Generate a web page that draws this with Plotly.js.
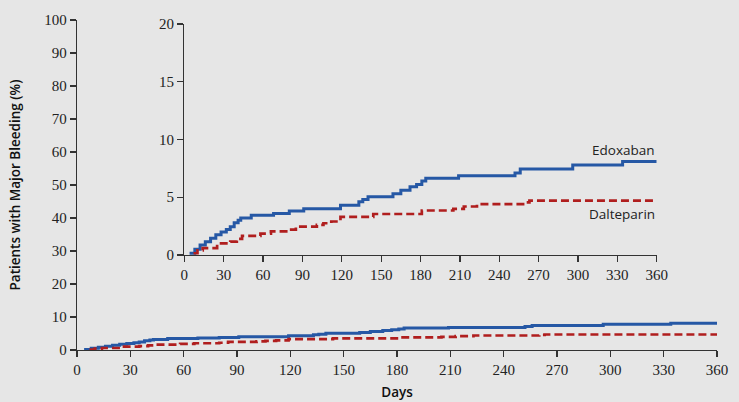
<!DOCTYPE html>
<html>
<head>
<meta charset="utf-8">
<script src="https://cdn.plot.ly/plotly-3.0.1.min.js"></script>
<style>
html,body{margin:0;padding:0;background:#e6e6e6;}
#chart{width:739px;height:402px;}
</style>
</head>
<body>
<div id="chart"></div>
<script>
// Edoxaban cumulative incidence (step)
const edoxDays = [4, 8, 12, 16, 20, 24, 28, 32, 35, 38, 41, 43, 51, 68, 80, 91, 119, 133, 136, 140, 159, 165, 172, 177, 181, 184, 209, 252, 256, 296, 334, 360];
const edoxVals = [0.15, 0.5, 0.87, 1.15, 1.45, 1.75, 2.0, 2.2, 2.45, 2.8, 3.0, 3.2, 3.45, 3.6, 3.8, 4.0, 4.3, 4.6, 4.8, 5.05, 5.3, 5.6, 5.9, 6.1, 6.4, 6.65, 6.85, 7.1, 7.45, 7.8, 8.1, 8.1];
// Dalteparin cumulative incidence (step)
const daltDays = [7, 10, 14, 25, 35, 40, 44, 58, 66, 80, 85, 101, 106, 112, 119, 144, 181, 205, 213, 223, 260, 263, 360];
const daltVals = [0.15, 0.4, 0.6, 1.0, 1.15, 1.4, 1.65, 1.85, 2.05, 2.2, 2.45, 2.6, 2.75, 2.9, 3.3, 3.55, 3.85, 4.0, 4.2, 4.4, 4.55, 4.7, 4.7];

const xTicks = [0, 30, 60, 90, 120, 150, 180, 210, 240, 270, 300, 330, 360];
const mainYTicks = [0, 10, 20, 30, 40, 50, 60, 70, 80, 90, 100];
const insetYTicks = [0, 5, 10, 15, 20];
const seriesNames = ["Edoxaban", "Dalteparin"];

const blue = "rgb(38,88,165)";
const red = "rgb(176,30,30)";
const tickFont = {family: "Liberation Serif, serif", size: 15, color: "#222"};
const titleFont = {family: "Open Sans, sans-serif", size: 13.5, color: "#111", weight: 600};

function traces(xa, ya) {
  return [
    {x: edoxDays, y: edoxVals, xaxis: xa, yaxis: ya, mode: "lines", name: seriesNames[0],
     line: {color: blue, width: 3, shape: "hv"}, showlegend: false, hoverinfo: "skip"},
    {x: daltDays, y: daltVals, xaxis: xa, yaxis: ya, mode: "lines", name: seriesNames[1],
     line: {color: red, width: 2.7, shape: "hv", dash: "8px,4px"}, showlegend: false, hoverinfo: "skip"}
  ];
}

const data = traces("x", "y").concat(traces("x2", "y2"));

const axisCommon = {
  showline: true, linecolor: "#333", linewidth: 1.3,
  ticks: "outside", ticklen: 6, tickwidth: 1.3, tickcolor: "#333",
  showgrid: false, zeroline: false, tickfont: tickFont, fixedrange: true
};

const layout = {
  width: 739, height: 402,
  paper_bgcolor: "#e6e6e6", plot_bgcolor: "rgba(0,0,0,0)",
  margin: {l: 77, r: 22, t: 20, b: 52},
  showlegend: false,
  xaxis: Object.assign({}, axisCommon, {
    range: [0, 360], tickvals: xTicks, ticktext: xTicks.map(String),
    domain: [0, 1], anchor: "y",
    title: {text: "Days", font: titleFont, standoff: 10}
  }),
  yaxis: Object.assign({}, axisCommon, {
    range: [0, 100], tickvals: mainYTicks, ticktext: mainYTicks.map(String),
    domain: [0, 1], anchor: "x",
    title: {text: "Patients with Major Bleeding (%)", font: titleFont, standoff: 20}
  }),
  xaxis2: Object.assign({}, axisCommon, {
    range: [0, 360], tickvals: xTicks, ticktext: xTicks.map(String),
    domain: [0.1677, 0.9058], anchor: "y2"
  }),
  yaxis2: Object.assign({}, axisCommon, {
    range: [0, 20], tickvals: insetYTicks, ticktext: insetYTicks.map(String),
    domain: [0.2879, 0.9879], anchor: "x2"
  }),
  annotations: [
    {xref: "x2", yref: "y2", x: 360, y: 9.1, text: seriesNames[0], showarrow: false,
     xanchor: "right", yanchor: "middle", font: {family: "Open Sans, sans-serif", size: 13.5, color: "#222"}},
    {xref: "x2", yref: "y2", x: 360, y: 3.55, text: seriesNames[1], showarrow: false,
     xanchor: "right", yanchor: "middle", font: {family: "Open Sans, sans-serif", size: 13.5, color: "#222"}}
  ]
};

Plotly.newPlot("chart", data, layout, {displayModeBar: false, staticPlot: true});
</script>
</body>
</html>
